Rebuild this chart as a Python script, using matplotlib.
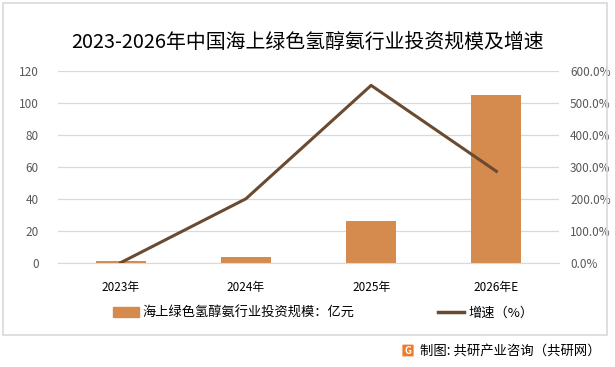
import matplotlib
matplotlib.use("Agg")
import matplotlib.pyplot as plt
from matplotlib.patches import Rectangle, FancyBboxPatch
from matplotlib.lines import Line2D
from matplotlib.ticker import FuncFormatter

plt.rcParams['font.family'] = ['Noto Sans CJK SC', 'DejaVu Sans']

categories = ["2023年", "2024年", "2025年", "2026年E"]
investment = [1.1, 3.5, 26.4, 105.0]
growth = [0.0, 200.0, 555.0, 286.0]
title = "2023-2026年中国海上绿色氢醇氨行业投资规模及增速"
bar_label = "海上绿色氢醇氨行业投资规模：亿元"
line_label = "增速（%）"
source = "制图: 共研产业咨询（共研网）"

W, H = 615, 367
fig = plt.figure(figsize=(W / 100, H / 100), dpi=100)
fig.patch.set_facecolor("white")

# border
fig.patches.append(Rectangle((3 / W, 1 - 335 / H), 604 / W, 332 / H, transform=fig.transFigure,
                             fill=False, edgecolor="#D9D9D9", linewidth=1.2))

ax = fig.add_axes([58 / W, 1 - 262.7 / H, 501 / W, 191.7 / H])
bar_color = "#D48B4D"
line_color = "#6A4A30"
x = list(range(len(categories)))
ax.bar(x, investment, width=0.4, color=bar_color, zorder=2)
ax.set_xlim(-0.5, 3.5)
ax.set_ylim(0, 120)
ax.set_yticks(range(0, 121, 20))
ax.grid(axis="y", color="#D9D9D9", linewidth=0.9, zorder=0)
ax.set_axisbelow(True)
for s in ax.spines.values():
    s.set_visible(False)
ax.spines["bottom"].set_visible(True)
ax.spines["bottom"].set_color("#D9D9D9")
ax.tick_params(axis="both", length=0, colors="#595959", labelsize=8.5)
ax.tick_params(axis="y", pad=14)
ax.set_xticks(x)
ax.set_xticklabels(categories, fontsize=8.5, color="black")
ax.tick_params(axis="x", pad=13)

ax2 = ax.twinx()
ax2.plot(x, growth, color=line_color, linewidth=2.2, zorder=3)
ax2.set_ylim(0, 600)
ax2.set_yticks(range(0, 601, 100))
ax2.yaxis.set_major_formatter(FuncFormatter(lambda v, p: f"{v:.1f}%"))
for s in ax2.spines.values():
    s.set_visible(False)
ax2.tick_params(axis="y", length=0, colors="#595959", labelsize=8.5, pad=8)

fig.text(308 / W, 1 - 42 / H, title, ha="center", va="center", fontsize=14.3, color="black")

handles = [Rectangle((0, 0), 1, 1, color=bar_color), Line2D([0], [0], color=line_color, linewidth=2.5)]
fig.legend(handles, [bar_label, line_label], loc="center", bbox_to_anchor=(323 / W, 1 - 313 / H),
           ncol=2, frameon=False, fontsize=9.5, columnspacing=6.3, handlelength=2.0, handletextpad=0.3)

# footer logo + source
fig.patches.append(FancyBboxPatch((403 / W, 1 - 356 / H), 10 / W, 11 / H, transform=fig.transFigure,
                                  boxstyle="round,pad=0.001", facecolor="#F07A2A", edgecolor="none"))
fig.text(408 / W, 1 - 350.5 / H, "G", ha="center", va="center", fontsize=7, color="white", fontweight="bold")
fig.text(601 / W, 1 - 350.5 / H, source, ha="right", va="center", fontsize=9.6, color="black")

fig.savefig("out.png", dpi=100)
